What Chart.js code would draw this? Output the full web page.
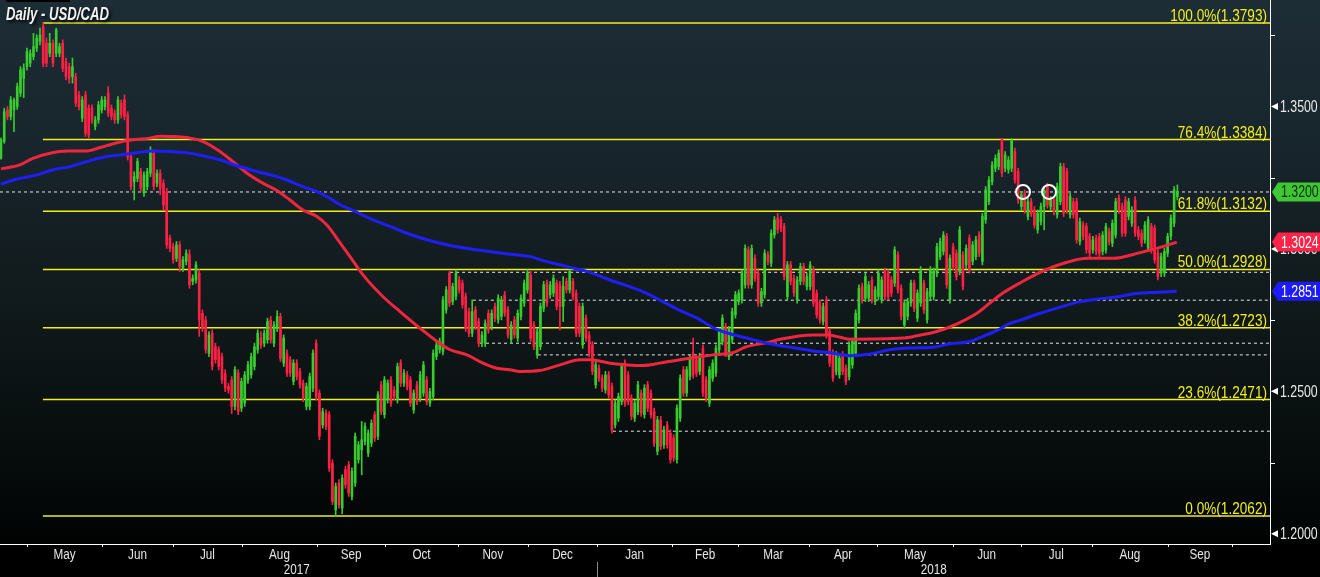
<!DOCTYPE html>
<html>
<head>
<script src="https://cdn.jsdelivr.net/npm/chart.js"></script>
<style>
  html, body { margin: 0; padding: 0; background: #000; }
  #wrap { width: 1320px; height: 577px; }
</style>
</head>
<body>
<div id="wrap"><canvas id="fx" width="1320" height="577"></canvas></div>
<script>
// daily USD/CAD candles, late Apr 2017 -> early Sep 2018
const opens = [
  1.3318,1.3377,1.3488,1.3465,1.3488,1.3500,1.3547,1.3599,1.3640,1.3652,
  1.3675,1.3705,1.3728,1.3780,1.3722,1.3687,1.3722,1.3687,1.3687,1.3722,
  1.3658,1.3640,1.3605,1.3605,1.3541,1.3459,1.3541,1.3494,1.3494,1.3430,
  1.3453,1.3488,1.3500,1.3547,1.3494,1.3476,1.3453,1.3512,1.3523,1.3471,
  1.3324,1.3236,1.3248,1.3271,1.3196,1.3219,1.3266,1.3336,1.3231,1.3266,
  1.3231,1.3201,1.3038,
  1.3008,1.2967,1.3014,1.2932,1.2956,1.2979,1.2886,1.2891,1.2915,1.2774,
  1.2751,1.2634,1.2704,1.2657,1.2646,1.2622,1.2564,1.2517,1.2540,1.2447,
  1.2564,1.2441,1.2459,1.2540,1.2558,1.2587,1.2646,1.2687,1.2669,1.2681,
  1.2751,1.2669,1.2722,1.2763,1.2599,1.2634,1.2611,1.2535,1.2599,1.2570,
  1.2529,1.2447,1.2447,1.2511,1.2669,1.2494,1.2382,1.2423,1.2418,1.2248,
  1.2084,1.2178,1.2090,1.2225,1.2242,1.2131,1.2178,1.2260,1.2295,1.2324,
  1.2283,1.2318,1.2418,1.2342,1.2523,1.2418,1.2470,1.2540,1.2505,1.2470,
  1.2599,1.2529,1.2558,1.2540,1.2435,1.2523,1.2476,1.2494,1.2540,1.2459,
  1.2482,1.2622,1.2646,1.2640,1.2786,1.2915,1.2815,1.2833,1.2891,1.2880,
  1.2833,1.2780,1.2704,1.2786,1.2745,1.2669,1.2669,1.2774,1.2728,1.2798,
  1.2751,1.2763,1.2839,1.2786,1.2681,1.2751,1.2687,1.2763,1.2810,1.2856,
  1.2909,1.2733,1.2628,1.2657,1.2792,1.2880,1.2839,1.2845,1.2880,1.2874,
  1.2798,1.2886,1.2856,1.2886,1.2845,1.2798,1.2663,1.2757,1.2698,1.2663,
  1.2523,1.2581,1.2546,1.2505,1.2558,1.2517,1.2382,1.2406,1.2464,1.2599,
  1.2558,1.2476,1.2406,1.2429,1.2494,1.2418,1.2523,1.2494,1.2429,1.2289,
  1.2400,1.2312,1.2382,1.2353,1.2336,1.2260,1.2406,1.2576,1.2494,1.2552,
  1.2634,1.2611,1.2570,1.2652,1.2540,1.2459,1.2546,1.2564,1.2646,1.2675,
  1.2728,1.2622,1.2681,1.2769,1.2815,1.2821,1.2874,1.2997,1.2874,1.2967,
  1.2915,1.2810,1.2839,1.2979,1.2950,1.3049,1.3108,1.3102,1.3079,1.2833,
  1.2944,1.2897,1.2821,1.2886,1.2938,1.2868,1.2868,1.2927,1.2845,1.2810,
  1.2745,1.2821,1.2710,1.2634,1.2570,1.2558,1.2628,1.2581,1.2552,1.2593,
  1.2634,1.2751,1.2868,1.2827,1.2827,1.2891,1.2815,1.2833,1.2821,1.2921,
  1.2915,1.2891,1.2880,1.2979,1.2862,1.2733,1.2763,1.2810,1.2880,1.2757,
  1.2810,1.2880,1.2751,1.2833,1.2833,1.2915,1.2973,1.2991,1.3044,1.2821,
  1.3008,1.2985,1.2921,1.2979,1.2944,1.3038,1.2956,1.2973,1.3049,1.2956,
  1.3102,1.3166,1.3236,1.3283,1.3289,1.3388,1.3283,1.3278,1.3283,1.3342,
  1.3272,1.3149,1.3196,1.3114,1.3166,1.3137,1.3067,1.3096,1.3149,1.3219,
  1.3149,1.3172,1.3120,1.3166,1.3289,1.3272,1.3120,1.3166,1.3166,1.3026,
  1.3084,1.3079,1.3044,1.2997,1.3038,1.3044,1.2991,1.2997,1.3061,1.3020,
  1.3049,1.3178,1.3149,1.3172,1.3114,1.3090,1.3172,1.3067,1.3055,1.3032,
  1.3002,1.3079,1.3073,1.2985,1.2915,1.2915,1.2985,1.3044,1.3090,1.3184
];
const highs = [
  1.3389,1.3494,1.3500,1.3535,1.3530,1.3582,1.3640,1.3650,1.3705,1.3699,
  1.3757,1.3752,1.3775,1.3793,1.3740,1.3757,1.3734,1.3775,1.3722,1.3734,
  1.3670,1.3652,1.3670,1.3617,1.3553,1.3535,1.3553,1.3506,1.3506,1.3465,
  1.3518,1.3535,1.3535,1.3570,1.3506,1.3488,1.3535,1.3523,1.3541,1.3482,
  1.3336,1.3271,1.3318,1.3283,1.3271,1.3283,1.3359,1.3348,1.3278,1.3278,
  1.3243,1.3213,1.3049,
  1.3020,1.3026,1.3026,1.2973,1.2997,1.2997,1.2909,1.2956,1.2927,1.2786,
  1.2763,1.2710,1.2716,1.2669,1.2657,1.2634,1.2576,1.2528,1.2552,1.2587,
  1.2576,1.2546,1.2570,1.2605,1.2634,1.2669,1.2716,1.2710,1.2716,1.2757,
  1.2763,1.2745,1.2783,1.2774,1.2698,1.2646,1.2622,1.2611,1.2611,1.2581,
  1.2540,1.2529,1.2564,1.2646,1.2681,1.2505,1.2441,1.2435,1.2429,1.2260,
  1.2178,1.2190,1.2207,1.2237,1.2254,1.2231,1.2354,1.2324,1.2394,1.2389,
  1.2365,1.2400,1.2429,1.2499,1.2535,1.2552,1.2540,1.2552,1.2517,1.2599,
  1.2611,1.2576,1.2570,1.2552,1.2505,1.2535,1.2570,1.2605,1.2552,1.2511,
  1.2646,1.2675,1.2687,1.2833,1.2868,1.2921,1.2880,1.2927,1.2903,1.2891,
  1.2845,1.2792,1.2821,1.2798,1.2757,1.2710,1.2751,1.2786,1.2786,1.2810,
  1.2839,1.2833,1.2851,1.2798,1.2745,1.2763,1.2786,1.2839,1.2891,1.2927,
  1.2921,1.2745,1.2722,1.2810,1.2886,1.2891,1.2886,1.2909,1.2891,1.2886,
  1.2903,1.2897,1.2927,1.2897,1.2856,1.2810,1.2810,1.2769,1.2710,1.2675,
  1.2605,1.2593,1.2558,1.2570,1.2570,1.2529,1.2470,1.2494,1.2599,1.2611,
  1.2570,1.2488,1.2470,1.2535,1.2505,1.2523,1.2535,1.2505,1.2441,1.2412,
  1.2412,1.2377,1.2394,1.2365,1.2348,1.2453,1.2558,1.2587,1.2587,1.2628,
  1.2687,1.2622,1.2634,1.2663,1.2552,1.2587,1.2611,1.2663,1.2722,1.2769,
  1.2739,1.2728,1.2792,1.2851,1.2856,1.2927,1.3014,1.3008,1.3014,1.2979,
  1.2927,1.2862,1.2997,1.2991,1.3067,1.3114,1.3125,1.3114,1.3090,1.2956,
  1.2956,1.2909,1.2903,1.2950,1.2950,1.2915,1.2956,1.2938,1.2856,1.2821,
  1.2810,1.2833,1.2722,1.2646,1.2640,1.2628,1.2640,1.2593,1.2675,1.2687,
  1.2786,1.2874,1.2880,1.2915,1.2886,1.2903,1.2868,1.2927,1.2903,1.2933,
  1.2927,1.2903,1.3008,1.2991,1.2874,1.2821,1.2827,1.2891,1.2891,1.2856,
  1.2938,1.2891,1.2862,1.2938,1.2933,1.3020,1.3038,1.3061,1.3055,1.2979,
  1.3020,1.2997,1.3079,1.2991,1.3014,1.3049,1.3026,1.3044,1.3061,1.3125,
  1.3219,1.3254,1.3307,1.3330,1.3348,1.3388,1.3342,1.3324,1.3388,1.3354,
  1.3283,1.3201,1.3207,1.3178,1.3178,1.3149,1.3137,1.3161,1.3219,1.3231,
  1.3184,1.3184,1.3231,1.3301,1.3301,1.3283,1.3196,1.3178,1.3178,1.3108,
  1.3096,1.3090,1.3055,1.3044,1.3049,1.3055,1.3061,1.3090,1.3073,1.3102,
  1.3178,1.3190,1.3161,1.3184,1.3178,1.3149,1.3184,1.3079,1.3067,1.3096,
  1.3114,1.3090,1.3084,1.2997,1.2985,1.3002,1.3055,1.3120,1.3219,1.3225
];
const lows = [
  1.3315,1.3371,1.3453,1.3453,1.3412,1.3490,1.3535,1.3531,1.3628,1.3640,
  1.3664,1.3693,1.3716,1.3640,1.3640,1.3675,1.3640,1.3675,1.3675,1.3622,
  1.3593,1.3582,1.3582,1.3500,1.3488,1.3447,1.3395,1.3389,1.3441,1.3418,
  1.3441,1.3477,1.3488,1.3465,1.3453,1.3441,1.3441,1.3459,1.3453,1.3312,
  1.3207,1.3172,1.3236,1.3201,1.3184,1.3207,1.3254,1.3207,1.3219,1.3190,
  1.3137,1.3002,1.2990,
  1.2950,1.2956,1.2921,1.2921,1.2944,1.2862,1.2874,1.2880,1.2693,1.2710,
  1.2634,1.2622,1.2575,1.2599,1.2575,1.2528,1.2499,1.2494,1.2422,1.2435,
  1.2418,1.2429,1.2447,1.2528,1.2546,1.2575,1.2634,1.2651,1.2657,1.2669,
  1.2669,1.2657,1.2710,1.2605,1.2587,1.2552,1.2552,1.2523,1.2540,1.2511,
  1.2464,1.2435,1.2435,1.2499,1.2470,1.2330,1.2371,1.2365,1.2219,1.2102,
  1.2062,1.2090,1.2070,1.2160,1.2131,1.2119,1.2166,1.2248,1.2207,1.2312,
  1.2271,1.2306,1.2324,1.2330,1.2418,1.2406,1.2459,1.2447,1.2470,1.2459,
  1.2517,1.2517,1.2505,1.2447,1.2423,1.2453,1.2464,1.2482,1.2453,1.2447,
  1.2470,1.2611,1.2634,1.2628,1.2774,1.2798,1.2804,1.2821,1.2845,1.2792,
  1.2710,1.2692,1.2692,1.2716,1.2657,1.2657,1.2657,1.2704,1.2716,1.2745,
  1.2739,1.2751,1.2763,1.2687,1.2669,1.2687,1.2675,1.2751,1.2798,1.2845,
  1.2675,1.2646,1.2616,1.2646,1.2780,1.2798,1.2827,1.2833,1.2786,1.2716,
  1.2745,1.2845,1.2845,1.2821,1.2692,1.2692,1.2651,1.2675,1.2622,1.2558,
  1.2511,1.2535,1.2499,1.2494,1.2476,1.2353,1.2371,1.2394,1.2453,1.2447,
  1.2453,1.2400,1.2394,1.2418,1.2412,1.2406,1.2429,1.2406,1.2306,1.2277,
  1.2295,1.2300,1.2300,1.2248,1.2254,1.2248,1.2394,1.2482,1.2482,1.2540,
  1.2546,1.2552,1.2558,1.2482,1.2464,1.2447,1.2535,1.2552,1.2634,1.2663,
  1.2622,1.2611,1.2669,1.2757,1.2804,1.2810,1.2862,1.2862,1.2862,1.2886,
  1.2798,1.2798,1.2827,1.2944,1.2938,1.3038,1.3055,1.3061,1.2891,1.2821,
  1.2874,1.2833,1.2810,1.2874,1.2874,1.2856,1.2856,1.2798,1.2757,1.2739,
  1.2733,1.2687,1.2587,1.2535,1.2558,1.2546,1.2558,1.2523,1.2540,1.2581,
  1.2622,1.2739,1.2810,1.2815,1.2815,1.2810,1.2804,1.2821,1.2810,1.2821,
  1.2821,1.2833,1.2868,1.2845,1.2751,1.2722,1.2751,1.2798,1.2780,1.2745,
  1.2798,1.2774,1.2739,1.2821,1.2821,1.2903,1.2962,1.2979,1.2862,1.2810,
  1.2927,1.2891,1.2909,1.2856,1.2932,1.2915,1.2944,1.2962,1.2973,1.2944,
  1.3090,1.3155,1.3225,1.3271,1.3278,1.3254,1.3271,1.3266,1.3271,1.3231,
  1.3160,1.3137,1.3125,1.3102,1.3114,1.3073,1.3055,1.3084,1.3067,1.3143,
  1.3137,1.3119,1.3108,1.3155,1.3114,1.3125,1.3108,1.3108,1.3020,1.3014,
  1.3032,1.2985,1.2973,1.2985,1.2979,1.2973,1.2979,1.2985,1.3014,1.3008,
  1.3038,1.3125,1.3044,1.3044,1.3102,1.3079,1.3044,1.3032,1.3008,1.3020,
  1.2991,1.2985,1.2950,1.2891,1.2903,1.2903,1.2973,1.3032,1.3078,1.3172
];
const closes = [
  1.3383,1.3482,1.3465,1.3523,1.3523,1.3570,1.3629,1.3634,1.3693,1.3687,
  1.3710,1.3740,1.3751,1.3652,1.3652,1.3722,1.3652,1.3769,1.3710,1.3634,
  1.3605,1.3599,1.3640,1.3512,1.3500,1.3523,1.3406,1.3400,1.3453,1.3453,
  1.3506,1.3523,1.3523,1.3476,1.3465,1.3453,1.3523,1.3471,1.3465,1.3324,
  1.3219,1.3254,1.3307,1.3213,1.3260,1.3271,1.3348,1.3219,1.3266,1.3213,
  1.3155,1.3014,1.3002,
  1.2962,1.3014,1.2938,1.2962,1.2985,1.2874,1.2897,1.2944,1.2751,1.2722,
  1.2646,1.2698,1.2587,1.2611,1.2587,1.2540,1.2511,1.2505,1.2447,1.2576,
  1.2429,1.2535,1.2558,1.2593,1.2622,1.2657,1.2704,1.2663,1.2704,1.2745,
  1.2681,1.2733,1.2763,1.2616,1.2687,1.2564,1.2564,1.2599,1.2552,1.2523,
  1.2476,1.2517,1.2552,1.2634,1.2482,1.2342,1.2429,1.2377,1.2231,1.2113,
  1.2166,1.2102,1.2195,1.2172,1.2143,1.2219,1.2342,1.2312,1.2330,1.2377,
  1.2353,1.2388,1.2336,1.2488,1.2429,1.2540,1.2529,1.2459,1.2482,1.2587,
  1.2529,1.2564,1.2517,1.2459,1.2494,1.2464,1.2558,1.2593,1.2464,1.2499,
  1.2634,1.2663,1.2675,1.2821,1.2856,1.2810,1.2868,1.2915,1.2856,1.2804,
  1.2722,1.2704,1.2780,1.2728,1.2669,1.2698,1.2739,1.2716,1.2774,1.2757,
  1.2827,1.2821,1.2774,1.2698,1.2733,1.2698,1.2774,1.2827,1.2880,1.2915,
  1.2687,1.2657,1.2710,1.2798,1.2874,1.2810,1.2874,1.2897,1.2798,1.2798,
  1.2868,1.2856,1.2921,1.2833,1.2704,1.2704,1.2798,1.2687,1.2634,1.2570,
  1.2593,1.2546,1.2511,1.2558,1.2488,1.2365,1.2459,1.2482,1.2587,1.2459,
  1.2464,1.2412,1.2459,1.2523,1.2423,1.2511,1.2441,1.2418,1.2318,1.2400,
  1.2306,1.2365,1.2312,1.2260,1.2266,1.2441,1.2546,1.2494,1.2576,1.2616,
  1.2558,1.2564,1.2622,1.2494,1.2476,1.2576,1.2599,1.2652,1.2710,1.2757,
  1.2634,1.2716,1.2780,1.2839,1.2845,1.2915,1.3002,1.2874,1.3002,1.2897,
  1.2810,1.2850,1.2985,1.2956,1.3055,1.3102,1.3067,1.3073,1.2903,1.2944,
  1.2886,1.2845,1.2891,1.2938,1.2886,1.2903,1.2944,1.2810,1.2768,1.2751,
  1.2798,1.2698,1.2599,1.2546,1.2628,1.2616,1.2570,1.2535,1.2663,1.2675,
  1.2774,1.2862,1.2821,1.2903,1.2874,1.2821,1.2856,1.2915,1.2891,1.2833,
  1.2833,1.2845,1.2997,1.2856,1.2763,1.2810,1.2815,1.2880,1.2792,1.2845,
  1.2927,1.2786,1.2850,1.2927,1.2921,1.3008,1.3026,1.3049,1.2874,1.2967,
  1.2938,1.2903,1.3067,1.2868,1.3002,1.2927,1.3014,1.3032,1.2985,1.3114,
  1.3207,1.3242,1.3295,1.3318,1.3336,1.3266,1.3330,1.3312,1.3383,1.3242,
  1.3172,1.3190,1.3137,1.3166,1.3125,1.3084,1.3125,1.3149,1.3207,1.3155,
  1.3172,1.3131,1.3219,1.3289,1.3125,1.3137,1.3184,1.3120,1.3032,1.3096,
  1.3044,1.2997,1.2985,1.3032,1.2991,1.2985,1.3049,1.3079,1.3026,1.3090,
  1.3166,1.3137,1.3055,1.3055,1.3166,1.3137,1.3055,1.3044,1.3020,1.3084,
  1.3102,1.2997,1.2962,1.2903,1.2973,1.2991,1.3044,1.3108,1.3207,1.3200
];

// moving averages, sampled at trading-day index
const redMaDay = [0,5.8,9.8,15.1,20.3,26.5,30.5,35.7,40.6,45.8,48.9,52,58.2,62.2,67.4,72.6,75.7,80.6,84.9,88.9,92.9,97.2,100.3,104.3,107.4,111.4,117.5,122.8,128.9,134.2,138.2,143.4,148.3,152.6,156.6,159.7,165.8,172,178.2,181.2,187.4,197.5,202.8,208.9,219.1,225.2,229.5,235.7,239.7,249.8,254.2,258.2,261.2,277.5,281.8,288,294.2,300.3,304.3,308.3,313.5,319.7,328,334.2,342.2,350.5,357.5,361.8];
const redMa = [1.3281,1.3295,1.3318,1.3336,1.3344,1.3344,1.3356,1.3373,1.3383,1.3389,1.3396,1.3395,1.3389,1.3377,1.3342,1.3295,1.3266,1.3231,1.3205,1.3172,1.3137,1.3114,1.3084,1.3022,1.2973,1.2909,1.2833,1.2780,1.2722,1.2675,1.2646,1.2628,1.2599,1.2581,1.2576,1.2570,1.2573,1.2593,1.2611,1.2611,1.2599,1.2591,1.2599,1.2611,1.2628,1.2636,1.2657,1.2671,1.2683,1.2698,1.2698,1.2690,1.2683,1.2687,1.2695,1.2710,1.2737,1.2774,1.2810,1.2845,1.2880,1.2918,1.2953,1.2967,1.2967,1.2987,1.3008,1.3024];
const blueMaDay = [0,5.8,11.1,16,21.2,26.5,31.4,36.6,41.8,46.8,52,58.2,62.2,67.4,72.6,78.8,84.9,88,92.9,97.2,101.2,104.3,108.3,114.5,119.7,124.9,131.1,138.2,145.2,151.4,156.6,162.8,166.8,174.2,180.3,187.4,192.6,197.5,203.7,208.9,214.2,219.1,224.3,229.5,235.7,241.8,249.8,256,261.2,267.4,273.5,279.7,286.8,292,298.2,302.2,306.5,310.5,313.5,319.7,325.8,332,338.2,344.3,348.3,354.5,361.8];
const blueMa = [1.3228,1.3248,1.3260,1.3278,1.3289,1.3307,1.3322,1.3330,1.3338,1.3344,1.3342,1.3336,1.3327,1.3313,1.3292,1.3272,1.3254,1.3242,1.3219,1.3201,1.3178,1.3155,1.3135,1.3102,1.3079,1.3055,1.3032,1.3012,1.2999,1.2989,1.2981,1.2973,1.2959,1.2938,1.2921,1.2891,1.2871,1.2850,1.2815,1.2784,1.2757,1.2724,1.2702,1.2687,1.2669,1.2657,1.2642,1.2634,1.2625,1.2631,1.2646,1.2652,1.2655,1.2667,1.2675,1.2693,1.2714,1.2739,1.2749,1.2774,1.2795,1.2815,1.2825,1.2833,1.2842,1.2847,1.2851];

// fibonacci retracement of the May-Sep 2017 move
const fibPcts = ['100.0%','76.4%','61.8%','50.0%','38.2%','23.6%','0.0%'];
const fibLevels = [1.3793,1.3384,1.3132,1.2928,1.2723,1.2471,1.2062];
const fibFromDay = 12.9;

// dotted support / resistance levels and the day each one starts
const dotLevels = [1.3200,1.2918,1.2820,1.2669,1.2628,1.2360];
const dotFromDay = [-0.3,138.2,145.2,147.4,165.2,188.3];

// the two marked touches of 1.3200
const circleDays = [314.5,322.5];
const circleLevel = 1.3200;

// axis
const monthEdges = [8.0,31.1,52.9,74.2,97.2,118.3,140.5,162.2,183.4,206.6,226.8,248.6,269.7,292.8,313.8,335.7,359.1,378.8];
const monthNames = ['May','Jun','Jul','Aug','Sep','Oct','Nov','Dec','Jan','Feb','Mar','Apr','May','Jun','Jul','Aug','Sep'];
const yearNames = ['2017','2018'];
const yearAtDay = [91,287];
const priceTicks = [1.20,1.25,1.30,1.35];
const minorTicks = [1.225,1.275,1.325,1.375];

const X_MIN = -0.3, X_MAX = 390.5;
const Y_MIN = 1.1964, Y_MAX = 1.3874;

const GREEN = '#38cc2e', RED = '#ff2144', YELLOW = '#f2ee1c';
const MA_RED = '#f0263f', MA_BLUE = '#1e1ef5';
const SANS = '"Liberation Sans", Arial, sans-serif';

const days = opens.map((_, i) => i);
const candleCol = days.map(i => closes[i] >= opens[i] ? GREEN : RED);

const datasets = [];

fibLevels.forEach(lv => datasets.push({
  type: 'line', data: [{x: fibFromDay, y: lv}, {x: X_MAX, y: lv}],
  borderColor: YELLOW, borderWidth: 1.5, pointRadius: 0, order: 9
}));
dotLevels.forEach((lv, k) => datasets.push({
  type: 'line', data: [{x: dotFromDay[k], y: lv}, {x: X_MAX, y: lv}],
  borderColor: '#e6e6e6', borderWidth: 1, borderDash: [3, 3], pointRadius: 0, order: 8
}));

datasets.push({
  type: 'bar', data: days.map(i => ({x: i, y: [lows[i], highs[i]]})),
  backgroundColor: candleCol, barThickness: 1, grouped: false, order: 5
});
datasets.push({
  type: 'bar', data: days.map(i => ({x: i, y: [opens[i], closes[i]]})),
  backgroundColor: candleCol, barThickness: 2, minBarLength: 1, grouped: false, order: 4
});

datasets.push({
  type: 'line', data: redMaDay.map((d, k) => ({x: d, y: redMa[k]})),
  borderColor: MA_RED, borderWidth: 3, pointRadius: 0, cubicInterpolationMode: 'monotone', order: 3
});
datasets.push({
  type: 'line', data: blueMaDay.map((d, k) => ({x: d, y: blueMa[k]})),
  borderColor: MA_BLUE, borderWidth: 3, pointRadius: 0, cubicInterpolationMode: 'monotone', order: 2
});
datasets.push({
  type: 'line', data: circleDays.map(d => ({x: d, y: circleLevel})), showLine: false,
  pointRadius: 7, pointBorderWidth: 2, pointBorderColor: '#ffffff',
  pointBackgroundColor: 'rgba(0,0,0,0)', order: 1
});

// condensed text: the source uses a narrow face, squeeze a regular one
function narrow(c, text, x, y, align, squeeze) {
  c.save();
  c.translate(x, y);
  c.scale(squeeze || 0.8, 1);
  c.textAlign = align;
  c.fillText(text, 0, 0);
  c.restore();
}

const decor = {
  id: 'decor',
  beforeDraw(chart) {
    const c = chart.ctx, a = chart.chartArea;
    const g = c.createLinearGradient(0, 0, 0, a.bottom);
    g.addColorStop(0, '#1d2d36');
    g.addColorStop(0.3, '#17242b');
    g.addColorStop(0.55, '#111a1c');
    g.addColorStop(0.8, '#080e0e');
    g.addColorStop(1, '#010303');
    c.save();
    c.fillStyle = '#000';
    c.fillRect(0, 0, chart.width, chart.height);
    c.fillStyle = g;
    c.fillRect(0, 0, chart.width, a.bottom);
    c.restore();
  },
  afterDraw(chart) {
    const c = chart.ctx, a = chart.chartArea;
    const xs = chart.scales.x, ys = chart.scales.y;
    c.save();

    // fib labels
    c.font = '17px ' + SANS;
    c.fillStyle = YELLOW;
    c.textBaseline = 'alphabetic';
    fibLevels.forEach((lv, k) => {
      narrow(c, fibPcts[k] + '(' + lv.toFixed(4) + ')', a.right - 3, ys.getPixelForValue(lv) - 2, 'right', 0.8);
    });

    // right axis ticks and labels
    c.strokeStyle = '#ffffff';
    c.lineWidth = 1;
    minorTicks.forEach(v => {
      const y = Math.round(ys.getPixelForValue(v)) + 0.5;
      c.beginPath(); c.moveTo(a.right, y); c.lineTo(a.right + 5, y); c.stroke();
    });
    c.font = '16px ' + SANS;
    c.textBaseline = 'middle';
    priceTicks.forEach(v => {
      const y = ys.getPixelForValue(v);
      c.fillStyle = '#ffffff';
      c.beginPath(); c.moveTo(a.right + 1, y); c.lineTo(a.right + 8, y - 3.5); c.lineTo(a.right + 8, y + 3.5); c.closePath(); c.fill();
      c.fillStyle = '#e8e8e8';
      narrow(c, v.toFixed(4), a.right + 10, y + 1, 'left', 0.77);
    });

    // last value boxes
    const box = (v, fill, txt) => {
      const y = ys.getPixelForValue(v);
      c.fillStyle = fill;
      c.beginPath();
      c.moveTo(a.right + 2, y); c.lineTo(a.right + 8, y - 9.5); c.lineTo(chart.width, y - 9.5);
      c.lineTo(chart.width, y + 9.5); c.lineTo(a.right + 8, y + 9.5); c.closePath(); c.fill();
      c.fillStyle = txt;
      narrow(c, v.toFixed(4), a.right + 11, y + 1, 'left', 0.77);
    };
    box(closes[closes.length - 1], '#3fc733', '#0b2a0b');
    box(redMa[redMa.length - 1], '#ff2448', '#ffffff');
    box(blueMa[blueMa.length - 1], '#1c1cf8', '#ffffff');

    // month ticks and labels
    c.strokeStyle = '#ffffff';
    monthEdges.forEach(d => {
      const x = Math.round(xs.getPixelForValue(d)) + 0.5;
      c.beginPath(); c.moveTo(x, a.bottom); c.lineTo(x, a.bottom + 3); c.stroke();
    });
    c.fillStyle = '#e6e6e6';
    c.font = '15px ' + SANS;
    monthNames.forEach((m, k) => {
      const x = xs.getPixelForValue((monthEdges[k] + monthEdges[k + 1]) / 2);
      narrow(c, m, x, a.bottom + 11, 'center', 0.78);
    });
    yearNames.forEach((yr, k) => narrow(c, yr, xs.getPixelForValue(yearAtDay[k]), a.bottom + 26, 'center', 0.78));
    const sep = Math.round(xs.getPixelForValue(monthEdges[8])) + 0.5;
    c.strokeStyle = '#8a8a8a';
    c.beginPath(); c.moveTo(sep, a.bottom + 18); c.lineTo(sep, chart.height); c.stroke();

    // title
    c.fillStyle = '#000';
    c.fillRect(6, 0, 64, 2);
    c.font = 'italic bold 18px ' + SANS;
    c.textBaseline = 'alphabetic';
    c.shadowColor = 'rgba(0,0,0,0.9)';
    c.shadowOffsetX = 2; c.shadowOffsetY = 2; c.shadowBlur = 3;
    c.fillStyle = '#f2f2f2';
    narrow(c, 'Daily - USD/CAD', 6, 20, 'left', 0.73);
    c.restore();
  }
};

new Chart(document.getElementById('fx'), {
  type: 'bar',
  data: { datasets },
  options: {
    responsive: false,
    animation: false,
    events: [],
    layout: { padding: 0, autoPadding: false },
    plugins: { legend: { display: false }, tooltip: { enabled: false } },
    scales: {
      x: {
        type: 'linear', min: X_MIN, max: X_MAX, offset: false,
        grid: { display: false }, ticks: { display: false },
        border: { color: '#ffffff', width: 1 },
        afterFit: s => { s.height = 33; }
      },
      y: {
        position: 'right', min: Y_MIN, max: Y_MAX,
        grid: { display: false }, ticks: { display: false },
        border: { color: '#ffffff', width: 1 },
        afterFit: s => { s.width = 50; }
      }
    }
  },
  plugins: [decor]
});
</script>
</body>
</html>
